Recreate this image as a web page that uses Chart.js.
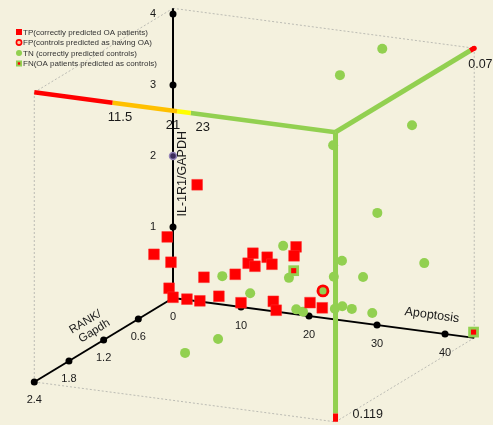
<!DOCTYPE html>
<html><head><meta charset="utf-8">
<script src="https://cdn.jsdelivr.net/npm/chart.js@4.4.0/dist/chart.umd.min.js"></script>
<style>html,body{margin:0;padding:0;background:#f4f1de;overflow:hidden}canvas{display:block}</style>
</head><body>
<canvas id="c" width="493" height="425"></canvas>
<script>
// ---- axis ranges, ticks, cut-offs ----
const apoptosisMax = 44.3, rankMax = 2.4, ilMax = 4.08;
const apoptosisTicks = [0, 10, 20, 30, 40];
const rankTicks = [0.6, 1.2, 1.8, 2.4];
const ilTicks = [1, 2, 3, 4];
const apoptosisCuts = [11.5, 21, 23];
const rankCut = 0.07;
const ilCut = 0.119;

// ---- data: apoptosis, RANK/Gapdh, IL-1R1/GAPDH ----
const tpApoptosis = [6.1, 1.7, 0.6, 1.4, 0.7, 0.85, 2.9, 4.8, 7.1, 7.6, 11.7, 10.85, 13.6, 14.3, 14.6, 16.4, 17.1, 21.5, 21.2, 15.6, 15.6, 21.0, 22.8];
const tpRank      = [0.3, 0.3, 0.4, 0.2, 0.15, 0.1, 0.1, 0.1, 0.3, 0.1, 0.3, 0.1, 0.3, 0.3, 0.3, 0.3, 0.3, 0.4, 0.4, 0.1, 0.05, 0.1, 0.1];
const tpIL        = [1.82, 1.03, 0.82, 0.62, 0.22, 0.07, 0.07, 0.07, 0.53, 0.17, 0.63, 0.12, 0.81, 0.96, 0.78, 0.93, 0.84, 1.19, 1.06, 0.2, 0.05, 0.25, 0.2];

const tnApoptosis = [31.2, 27.1, 39.4, 27.8, 34.3, 29.1, 41.2, 27.9, 32.2, 25.5, 26.6, 28.0, 31.0, 19.6, 19.6, 13.9, 9.8, 19.4, 20.4, 13.6, 12.4];
const tnRank      = [0.05, 0.3, 0.5, 0.5, 0.5, 0.5, 0.5, 0.5, 0.5, 0.2, 0.2, 0.2, 0.2, 0.4, 0.3, 0.3, 0.3, 0.15, 0.15, 0.82, 1.25];
const tnIL        = [3.93, 3.63, 3.18, 2.75, 1.88, 1.14, 1.26, 0.90, 0.95, 0.27, 0.32, 0.30, 0.28, 1.18, 0.68, 0.39, 0.58, 0.16, 0.14, 0.0, 0.0];

const fpApoptosis = [24.6];
const fpRank      = [0.3];
const fpIL        = [0.56];

const fnApoptosis = [20.3, 44.2];
const fnRank      = [0.3, 0.0];
const fnIL        = [0.79, 0.08];

const legendLabels = ['TP(correctly predicted OA patients)', 'FP(controls predicted as having OA)', 'TN (correctly predicted controls)', 'FN(OA patients predicted as controls)'];

// ---- view (oblique projection) ----
const VIEW = {ax: 6.8, ay: -0.9, rx: -57.8, ry: -35, zy: 71};
function P(a, r, z) { return {x: VIEW.ax * a + VIEW.rx * r, y: VIEW.ay * a + VIEW.ry * r + VIEW.zy * z}; }
function pts(A, R, Z) { return A.map((a, i) => P(a, R[i], Z[i])); }

const RED = '#ff0000', GREEN = '#92d050', ORANGE = '#ffc000', YELLOW = '#ffff00', BG = '#f4f1de';

const datasets = [];
function line(p1, p2, color, width, dash, order) {
  datasets.push({data: [P(...p1), P(...p2)], showLine: true, borderColor: color, borderWidth: width,
    borderDash: dash || [], pointRadius: 0, fill: false, order: order, borderCapStyle: 'butt', clip: false});
}
// box (dotted)
const BOX = '#bcbcb4';
line([0, 0, ilMax], [apoptosisMax, 0, ilMax], BOX, 1, [2, 2], 20);
line([0, 0, ilMax], [0, rankMax, ilMax], BOX, 1, [2, 2], 20);
line([0, rankMax, 0], [0, rankMax, ilMax], BOX, 1, [2, 2], 20);
line([apoptosisMax, 0, 0], [apoptosisMax, 0, ilMax], BOX, 1, [2, 2], 20);
line([0, rankMax, 0], [apoptosisMax, rankMax, 0], BOX, 1, [2, 2], 20);
line([apoptosisMax, 0, 0], [apoptosisMax, rankMax, 0], BOX, 1, [2, 2], 20);
// axes
line([0, 0, 0], [apoptosisMax, 0, 0], '#000', 2, [], 15);
line([0, 0, 0], [0, rankMax, 0], '#000', 2, [], 15);
line([0, 0, 0], [0, 0, ilMax], '#000', 2, [], 15);
// cut-off lines
const aStops = [0, ...apoptosisCuts, apoptosisMax];
const aCols = [RED, ORANGE, YELLOW, GREEN];
for (let i = 0; i < 4; i++) line([aStops[i], rankMax, ilMax], [aStops[i + 1], rankMax, ilMax], aCols[i], 4.5, [], 10);
line([apoptosisMax, rankMax, ilMax], [apoptosisMax, rankCut, ilMax], GREEN, 5, [], 10);
line([apoptosisMax, rankCut, ilMax], [apoptosisMax, 0, ilMax], RED, 5, [], 9);
line([apoptosisMax, rankMax, ilMax], [apoptosisMax, rankMax, ilCut], GREEN, 5, [], 10);
line([apoptosisMax, rankMax, ilCut], [apoptosisMax, rankMax, 0], RED, 5, [], 9);
// red end dot at rank cut
datasets.push({data: [P(apoptosisMax, 0, ilMax)], pointRadius: 2.5, pointBackgroundColor: RED, pointBorderWidth: 0, order: 8, clip: false});
// tick markers
datasets.push({data: apoptosisTicks.filter(t => t > 0).map(t => P(t, 0, 0)).concat(rankTicks.map(t => P(0, t, 0)), ilTicks.filter(t => t !== 2).map(t => P(0, 0, t))),
  pointRadius: 3.5, pointBackgroundColor: '#000', pointBorderWidth: 0, order: 7, clip: false});
datasets.push({data: [P(0, 0, 2)], pointRadius: 3.5, pointBackgroundColor: '#3b2b5a', pointBorderColor: '#9383b8', pointBorderWidth: 1.5, order: 7, clip: false});
// points
datasets.push({data: pts(tnApoptosis, tnRank, tnIL), pointStyle: 'circle', pointRadius: 5, pointBackgroundColor: GREEN, pointBorderWidth: 0, order: 4, clip: false});
datasets.push({data: pts(tpApoptosis, tpRank, tpIL), pointStyle: 'rect', pointRadius: 7.6, pointBackgroundColor: RED, pointBorderColor: '#ff3030', pointBorderWidth: 0.5, order: 3, clip: false});
datasets.push({data: pts(fpApoptosis, fpRank, fpIL), pointStyle: 'circle', pointRadius: 5, pointBackgroundColor: GREEN, pointBorderColor: RED, pointBorderWidth: 2.8, order: 2, clip: false});
datasets.push({data: pts(fnApoptosis, fnRank, fnIL), pointStyle: 'rect', pointRadius: 7.6, pointBackgroundColor: GREEN, pointBorderWidth: 0, order: 1, clip: false});
datasets.push({data: pts(fnApoptosis, fnRank, fnIL), pointStyle: 'rect', pointRadius: 3.6, pointBackgroundColor: RED, pointBorderWidth: 0, order: 0, clip: false});

const FONT = '"Liberation Sans", Arial, sans-serif';
const textPlugin = {
  id: 'texts',
  beforeDraw(chart) {
    const c = chart.ctx; c.save(); c.fillStyle = BG; c.fillRect(0, 0, chart.width, chart.height); c.restore();
  },
  afterDraw(chart) {
    const c = chart.ctx, sx = chart.scales.x, sy = chart.scales.y;
    const px = (p) => [sx.getPixelForValue(p.x), sy.getPixelForValue(p.y)];
    function txt(s, p, dx, dy, size, align, rot, color) {
      const [x, y] = px(p);
      c.save(); c.translate(x + dx, y + dy); if (rot) c.rotate(rot);
      c.font = size + 'px ' + FONT; c.fillStyle = color || '#1a1a1a';
      c.textAlign = align || 'center'; c.textBaseline = 'middle';
      c.fillText(s, 0, 0); c.restore();
    }
    apoptosisTicks.forEach(t => txt(String(t), P(t, 0, 0), 0, 19, 11));
    rankTicks.forEach(t => txt(t.toFixed(1), P(0, t, 0), 0, 18, 11));
    ilTicks.forEach(t => txt(String(t), P(0, 0, t), -20, 0, 11));
    txt('IL-1R1/GAPDH', P(0, 0, 1.75), 9.5, 0, 12.5, 'center', -Math.PI / 2);
    const rAng = Math.atan2(-35, 57.8);
    txt('RANK/', P(0, 1.3, 0), -12.5, -21.5, 11.5, 'center', rAng);
    txt('Gapdh', P(0, 1.3, 0), -3.5, -12.5, 11.5, 'center', rAng);
    txt('Apoptosis', P(38, 0, 0), 0.6, -17, 12.5, 'center', Math.atan2(0.9, 6.8));
    txt(String(apoptosisCuts[0]), P(apoptosisCuts[0], rankMax, ilMax), 7.5, 14.3, 13);
    txt(String(apoptosisCuts[1]), P(apoptosisCuts[1], rankMax, ilMax), -4, 14, 13);
    txt(String(apoptosisCuts[2]), P(apoptosisCuts[2], rankMax, ilMax), 12, 14, 13);
    txt(String(rankCut), P(apoptosisMax, 0, ilMax), -6, 16.5, 12.5, 'left');
    txt(String(ilCut), P(apoptosisMax, rankMax, 0), 17, -7.5, 12.5, 'left');
    // legend
    const rows = [32, 42.5, 53, 63.5];
    c.save();
    c.font = '8px ' + FONT; c.textBaseline = 'middle'; c.textAlign = 'left';
    rows.forEach((y, i) => {
      const x = 19;
      if (i === 0) { c.fillStyle = RED; c.fillRect(x - 3, y - 3, 6, 6); }
      if (i === 1) { c.beginPath(); c.arc(x, y, 2.6, 0, Math.PI * 2); c.fillStyle = '#f9c9a0'; c.fill(); c.lineWidth = 1.6; c.strokeStyle = RED; c.stroke(); }
      if (i === 2) { c.beginPath(); c.arc(x, y, 3, 0, Math.PI * 2); c.fillStyle = GREEN; c.fill(); }
      if (i === 3) { c.fillStyle = GREEN; c.fillRect(x - 3, y - 3, 6, 6); c.fillStyle = RED; c.fillRect(x - 1.2, y - 1.2, 2.4, 2.4); }
      c.fillStyle = '#333'; c.fillText(legendLabels[i], 23, y + 0.5);
    });
    c.restore();
  }
};

new Chart(document.getElementById('c'), {
  type: 'scatter',
  data: {datasets},
  options: {
    responsive: false, animation: false, events: [],
    layout: {padding: 0, autoPadding: false},
    plugins: {legend: {display: false}, tooltip: {enabled: false}},
    scales: {
      x: {type: 'linear', min: -173, max: 320, display: false},
      y: {type: 'linear', min: -127, max: 298, display: false}
    },
    elements: {line: {tension: 0}}
  },
  plugins: [textPlugin]
});
</script>
</body></html>
